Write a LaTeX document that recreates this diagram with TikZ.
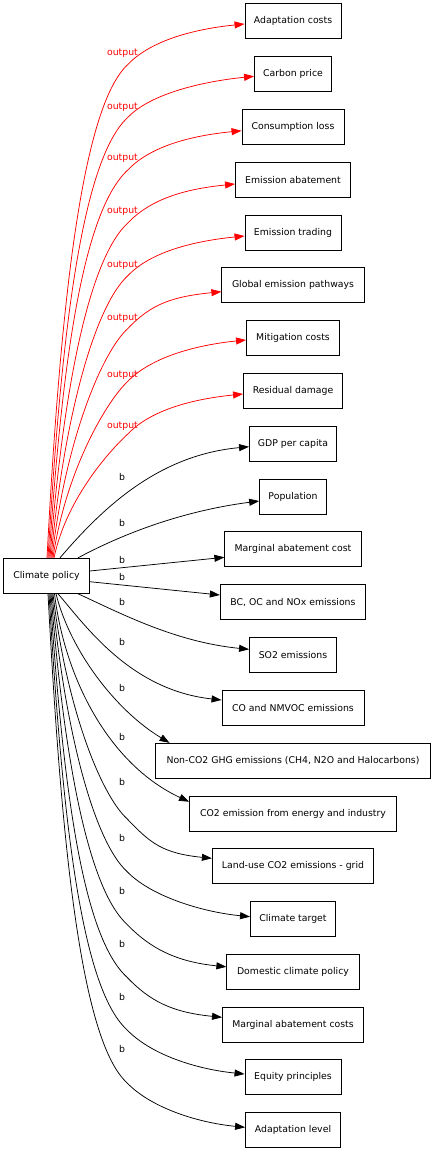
\documentclass[tikz,border=0pt]{standalone}
\usepackage{fontspec}
\setmainfont{DejaVu Sans}
\usetikzlibrary{arrows.meta,calc}
% red "output" edge: #1 target, #2 tail dx from cp.north, #3 end dy (downwards)
\newcommand\outedge[3]{%
  \draw[redge] let \p1=($(cp.north)+(#2,0)$), \p2=(#1.west),
    \p3=(128pt,{\y2-43pt}),
    \n1={min(1,((\y3)-(\y1))/400)},
    \p4=({\x2},{\y2-(#3)*1pt})
  in (\p1) .. controls ({\x1+13pt},{\y1+0.5*((\y3)-(\y1))}) and ({\x3-47*\n1},{\y3-43*\n1}) .. (\p3)
     .. controls ({\x3+23pt},{\y3+24pt}) and ({\x4-50pt},{\y4-5pt}) .. (\p4);}
% black "b" edge from the bottom: #1 target, #2 tail dx from cp.south, #3 end dy (upwards)
\newcommand\inedge[3]{%
  \draw[bedge] let \p1=($(cp.south)+(#2,0)$), \p2=(#1.west),
    \p3=(127pt,{\y2+47.5pt}),
    \n1={min(1,((\y1)-(\y3))/400)},
    \p4=({\x2},{\y2+(#3)*1pt})
  in (\p1) .. controls ({\x1+13pt},{\y1-0.5*((\y1)-(\y3))}) and ({\x3-47*\n1},{\y3+43*\n1}) .. (\p3)
     .. controls ({\x3+23pt},{\y3-24pt}) and ({\x4-50pt},{\y4+5pt}) .. (\p4);}
\begin{document}
\begin{tikzpicture}[x=1pt,y=-1pt,
  box/.style={draw=black, line width=0.9pt, minimum height=35pt, inner sep=0pt,
              font=\fontsize{9.33}{11}\selectfont},
  lbl/.style={inner sep=0pt, anchor=base, font=\fontsize{9.33}{11}\selectfont},
  redge/.style={draw=red, line width=0.75pt, -{Triangle[length=10pt,width=7pt]}},
  bedge/.style={draw=black, line width=0.75pt, -{Triangle[length=10pt,width=7pt]}}]
\useasboundingbox (0,0) rectangle (434,1152);

\node[box, minimum width=85.6pt] (cp) at (46.5,575.8) {Climate policy};

\node[box, minimum width=96pt]    (ac)   at (293,21.3)   {Adaptation costs};
\node[box, minimum width=77pt]    (cpr)  at (293,74.2)   {Carbon price};
\node[box, minimum width=102pt]   (cl)   at (293,126.8)  {Consumption loss};
\node[box, minimum width=115pt]   (ea)   at (293,179.8)  {Emission abatement};
\node[box, minimum width=96pt]    (et)   at (293,232.5)  {Emission trading};
\node[box, minimum width=142.3pt] (gep)  at (293,285.3)  {Global emission pathways};
\node[box, minimum width=93pt]    (mc)   at (293,338.2)  {Mitigation costs};
\node[box, minimum width=99pt]    (rd)   at (293,390.8)  {Residual damage};
\node[box, minimum width=87pt]    (gdp)  at (293,443.7)  {GDP per capita};
\node[box, minimum width=66.7pt]  (pop)  at (293,496.7)  {Population};
\node[box, minimum width=136.3pt] (mac)  at (293,549.3)  {Marginal abatement cost};
\node[box, minimum width=145.4pt] (bc)   at (293,602.2)  {BC, OC and NOx emissions};
\node[box, minimum width=87pt]    (so2)  at (293,655)    {SO2 emissions};
\node[box, minimum width=142pt]   (co)   at (293,707.8)  {CO and NMVOC emissions};
\node[box, minimum width=275.4pt] (nco)  at (293,760.8)  {Non-CO2 GHG emissions (CH4, N2O and Halocarbons)};
\node[box, minimum width=207pt]   (co2)  at (293,813.5)  {CO2 emission from energy and industry};
\node[box, minimum width=161.3pt] (lu)   at (293,866.2)  {Land-use CO2 emissions - grid};
\node[box, minimum width=85pt]    (ct)   at (293,919)    {Climate target};
\node[box, minimum width=132.3pt] (dcp)  at (293,971.8)  {Domestic climate policy};
\node[box, minimum width=141pt]   (macs) at (293,1024.7) {Marginal abatement costs};
\node[box, minimum width=96pt]    (eq)   at (293,1077.3) {Equity principles};
\node[box, minimum width=95pt]    (al)   at (293,1130.3) {Adaptation level};

% red output edges
\outedge{ac}{0.5}{2.7}
\outedge{cpr}{1.5}{2.1}
\outedge{cl}{2.5}{3.9}
\outedge{ea}{3.5}{4.2}
\outedge{et}{4.5}{3.5}
\outedge{gep}{5.5}{6.4}
\outedge{mc}{6.5}{1.8}
\outedge{rd}{7.5}{3.2}

% black edges
\draw[bedge] ($(cp.north)+(13.5,0)$) .. controls (105,505) and (160,455) .. ($(gdp.west)+(0,3)$);
\draw[bedge] ($(cp.north)+(31.5,0)$) .. controls (115,538) and (175,512) .. ($(pop.west)+(0,4.3)$);
\draw[bedge] ($(cp.east)+(0,-4.8)$) -- ($(mac.west)+(0,8)$);
\draw[bedge] ($(cp.east)+(0,5.9)$) -- ($(bc.west)+(0,-7.2)$);
\draw[bedge] ($(cp.south)+(31.5,0)$) .. controls (120,613) and (175,642) .. ($(so2.west)+(0,-5.7)$);
\draw[bedge] ($(cp.south)+(11.5,0)$) .. controls (85,625) and (130,690) .. ($(co.west)+(0,-7.8)$);
\draw[bedge] ($(cp.south)+(9.5,0)$) .. controls (70,650) and (115,710) .. ($(nco.north west)+(14.7,0)$);
\draw[bedge] ($(cp.south)+(8,0)$) .. controls (65,680) and (110,765) .. ($(co2.west)+(0,-11.8)$);
\inedge{lu}{6.5}{7.9}
\inedge{ct}{5.5}{2.3}
\inedge{dcp}{4.5}{5}
\inedge{macs}{3.5}{7.4}
\inedge{eq}{2.5}{3.3}
\inedge{al}{1.5}{3}

% labels
\foreach \ly [count=\k] in {52.7,106,157.7,210.7,264,317.7,374,425.7}
  \node[lbl, text=red] (o\k) at (122.5,\ly+3) {output};
\foreach \ly [count=\k] in {476.7,523.3,560.3,577.3,602.3,642.3,688.3,737,781.7,837.7,890.7,944.3,996.7,1049.3}
  \node[lbl] (b\k) at (122,\ly+3.5) {b};
\end{tikzpicture}
\end{document}
